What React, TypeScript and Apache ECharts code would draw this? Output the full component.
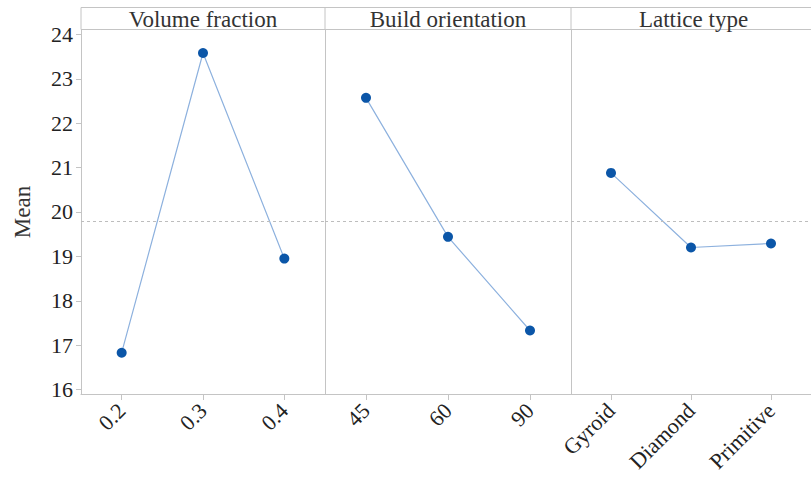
import React, { useEffect, useRef } from "react";
import * as echarts from "echarts";

const factorNames = ["Volume fraction", "Build orientation", "Lattice type"];
const volumeLevels = ["0.2", "0.3", "0.4"];
const volumeMeans = [16.83, 23.58, 18.95];
const orientationLevels = ["45", "60", "90"];
const orientationMeans = [22.57, 19.44, 17.33];
const latticeLevels = ["Gyroid", "Diamond", "Primitive"];
const latticeMeans = [20.88, 19.2, 19.29];
const grandMean = 19.78;
const yTicks = [16, 17, 18, 19, 20, 21, 22, 23, 24];
const yMin = 15.9;
const yMax = 24.11;

const FONT = '"Liberation Serif", "Times New Roman", serif';

export default function App() {
  const ref = useRef<HTMLDivElement>(null);
  useEffect(() => {
    if (!ref.current) return;
    const chart = echarts.init(ref.current, undefined, { renderer: "svg" });
    const levels = [volumeLevels, orientationLevels, latticeLevels];
    const means = [volumeMeans, orientationMeans, latticeMeans];
    const lefts = [81, 325, 571];
    const widths = [244, 246, 245];
    const top = 29.5;
    const bottomY = 394;
    const axisColor = "#c4c4c4";

    const grids = lefts.map((l, i) => ({
      left: l,
      top,
      width: widths[i],
      height: bottomY - top,
      containLabel: false,
    }));
    const xAxes = levels.map((cats, i) => ({
      type: "category" as const,
      gridIndex: i,
      data: cats,
      boundaryGap: true,
      axisLine: { show: true, lineStyle: { color: axisColor, width: 1 } },
      axisTick: { show: true, alignWithLabel: true, length: 6, lineStyle: { color: axisColor } },
      axisLabel: {
        rotate: 45,
        margin: 13,
        fontFamily: FONT,
        fontSize: 22,
        color: "#222",
      },
      splitLine: { show: false },
    }));
    const yAxes = levels.map((_, i) => ({
      type: "value" as const,
      gridIndex: i,
      min: yMin,
      max: yMax,
      axisLine: { show: true, lineStyle: { color: axisColor, width: 1 } },
      axisTick: {
        show: i === 0,
        length: 5,
        lineStyle: { color: axisColor },
        customValues: yTicks,
      },
      axisLabel: {
        show: i === 0,
        fontFamily: FONT,
        fontSize: 22,
        color: "#222",
        margin: 8,
        customValues: yTicks,
      },
      splitLine: { show: false },
    }));
    const series = means.map((vals, i) => ({
      type: "line" as const,
      xAxisIndex: i,
      yAxisIndex: i,
      data: vals,
      symbol: "circle",
      symbolSize: 10,
      itemStyle: { color: "#0b56a8" },
      lineStyle: { color: "#8db1de", width: 1.2 },
      markLine: {
        silent: true,
        symbol: "none",
        label: { show: false },
        lineStyle: { color: "#bdbdbd", type: [3, 3] as any, width: 1 },
        data: [{ yAxis: grandMean }],
      },
    }));

    const headerTop = 7.5;
    const graphics: any[] = [
      {
        type: "rect",
        shape: { x: 81, y: headerTop, width: 760, height: top - headerTop },
        style: { fill: "#fff", stroke: axisColor, lineWidth: 1 },
        z: 10,
      },
      ...lefts.slice(1).map((l) => ({
        type: "line",
        shape: { x1: l, y1: headerTop, x2: l, y2: top },
        style: { stroke: axisColor, lineWidth: 1 },
        z: 11,
      })),
      ...factorNames.map((name, i) => ({
        type: "text",
        x: lefts[i] + widths[i] / 2,
        y: (headerTop + top) / 2 + 1,
        style: {
          text: name,
          font: `23px ${FONT}`,
          fill: "#333",
          textAlign: "center",
          textVerticalAlign: "middle",
        },
        z: 12,
      })),
      {
        type: "text",
        x: 22,
        y: 212,
        rotation: Math.PI / 2,
        style: {
          text: "Mean",
          font: `23px ${FONT}`,
          fill: "#333",
          textAlign: "center",
          textVerticalAlign: "middle",
        },
      },
    ];

    chart.setOption({
      animation: false,
      backgroundColor: "#fff",
      grid: grids,
      xAxis: xAxes,
      yAxis: yAxes,
      series,
      graphic: graphics,
    });
    return () => chart.dispose();
  }, []);
  return (
    <div
      ref={ref}
      style={{ position: "fixed", left: 0, top: 0, width: 811, height: 477 }}
    />
  );
}
